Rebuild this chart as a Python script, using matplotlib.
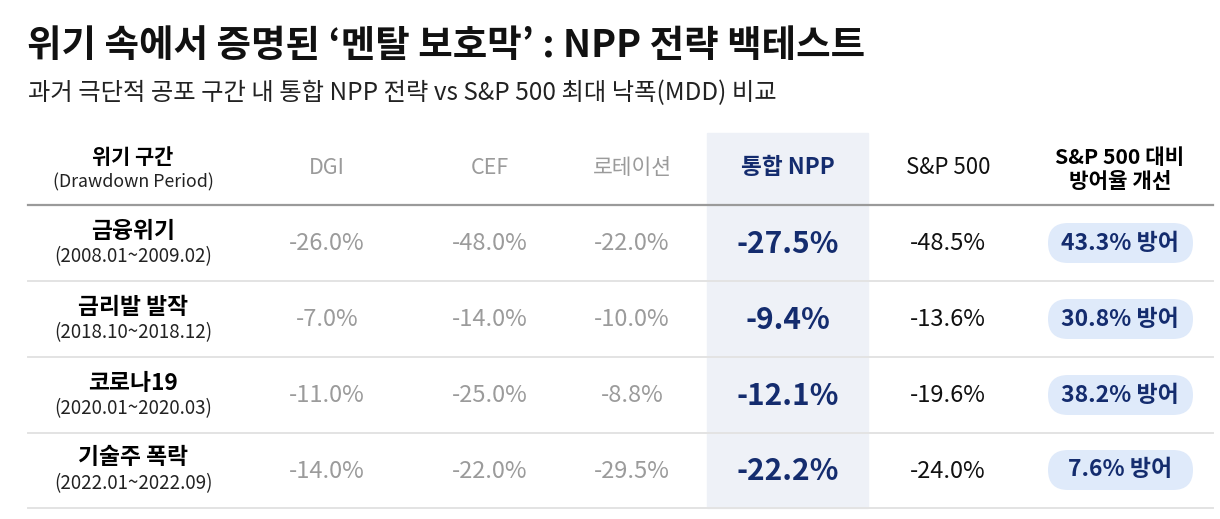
import matplotlib.pyplot as plt
from matplotlib.patches import Rectangle, FancyBboxPatch

plt.rcParams['font.family'] = ['Noto Sans CJK KR', 'DejaVu Sans']

title = "위기 속에서 증명된 ‘멘탈 보호막’ : NPP 전략 백테스트"
subtitle = "과거 극단적 공포 구간 내 통합 NPP 전략 vs S&P 500 최대 낙폭(MDD) 비교"

periods = ["금융위기", "금리발 발작", "코로나19", "기술주 폭락"]
dates = ["(2008.01~2009.02)", "(2018.10~2018.12)", "(2020.01~2020.03)", "(2022.01~2022.09)"]
dgi = [-26.0, -7.0, -11.0, -14.0]
cef = [-48.0, -14.0, -25.0, -22.0]
rotation = [-22.0, -10.0, -8.8, -29.5]
npp = [-27.5, -9.4, -12.1, -22.2]
sp500 = [-48.5, -13.6, -19.6, -24.0]
improve = [43.3, 30.8, 38.2, 7.6]

navy = '#142c6e'
gray = '#9b9b9b'

fig = plt.figure(figsize=(12.2, 5.19), dpi=100)
ax = fig.add_axes([0, 0, 1, 1])
ax.set_xlim(0, 1220)
ax.set_ylim(519, 0)
ax.axis('off')

# title block
ax.text(27, 46, title, fontsize=27, fontweight='bold', va='center', ha='left', color='#111111')
ax.text(28, 93, subtitle, fontsize=17.5, va='center', ha='left', color='#222222')

col_x = [133, 327, 490, 632, 788, 948, 1120]
header_y = 168
row_y = [243, 319, 395, 470]
row_h = 76

# highlighted NPP column
ax.add_patch(Rectangle((707, 133), 161, 508 - 133, color='#eef1f7', zorder=0))

# header
ax.text(col_x[0], 157, "위기 구간", fontsize=15, fontweight='bold', ha='center', va='center')
ax.text(col_x[0], 182, "(Drawdown Period)", fontsize=12.8, ha='center', va='center', color='#222222')
ax.text(col_x[1], header_y, "DGI", fontsize=15.5, ha='center', va='center', color=gray)
ax.text(col_x[2], header_y, "CEF", fontsize=15.5, ha='center', va='center', color=gray)
ax.text(col_x[3], header_y, "로테이션", fontsize=15.5, ha='center', va='center', color=gray)
ax.text(col_x[4], header_y, "통합 NPP", fontsize=16.3, fontweight='bold', ha='center', va='center', color=navy)
ax.text(col_x[5], header_y, "S&P 500", fontsize=16, ha='center', va='center', color='#111111')
ax.text(col_x[6], 157, "S&P 500 대비", fontsize=15.3, fontweight='bold', ha='center', va='center')
ax.text(col_x[6], 182, "방어율 개선", fontsize=15.3, fontweight='bold', ha='center', va='center')

ax.plot([28, 1213], [205, 205], color='#9a9a9a', lw=1.6)

for i, y in enumerate(row_y):
    ax.text(col_x[0], y - 12, periods[i], fontsize=16.4, fontweight='bold', ha='center', va='center')
    ax.text(col_x[0], y + 14, dates[i], fontsize=13.5, ha='center', va='center', color='#222222')
    ax.text(col_x[1], y + 1, f"{dgi[i]:.1f}%", fontsize=17, ha='center', va='center', color=gray)
    ax.text(col_x[2], y + 1, f"{cef[i]:.1f}%", fontsize=17, ha='center', va='center', color=gray)
    ax.text(col_x[3], y + 1, f"{rotation[i]:.1f}%", fontsize=17, ha='center', va='center', color=gray)
    ax.text(col_x[4], y + 1, f"{npp[i]:.1f}%", fontsize=21.5, fontweight='bold', ha='center', va='center', color=navy)
    ax.text(col_x[5], y + 1, f"{sp500[i]:.1f}%", fontsize=17, ha='center', va='center', color='#111111')
    ax.add_patch(FancyBboxPatch((1048, y - 20), 145, 40,
                                boxstyle="round,pad=0,rounding_size=20",
                                fc='#dfeafa', ec='none'))
    ax.text(col_x[6], y, f"{improve[i]:.1f}% 방어", fontsize=16.5, fontweight='bold',
            ha='center', va='center', color=navy)
    ax.plot([28, 1213], [y + row_h / 2, y + row_h / 2], color='#e3e3e3', lw=1.4)

fig.savefig('out.png', dpi=100)
